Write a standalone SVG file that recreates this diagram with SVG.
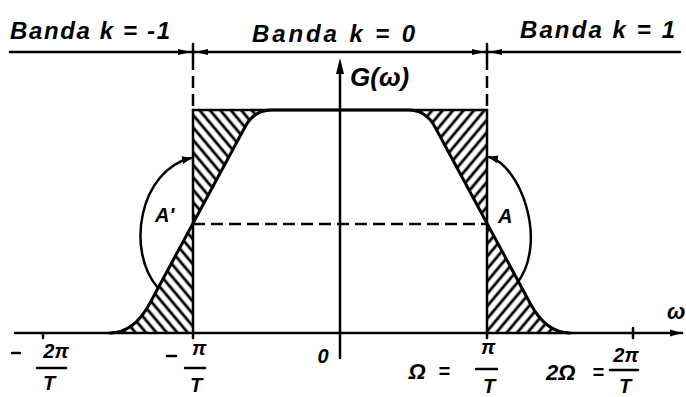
<svg xmlns="http://www.w3.org/2000/svg" width="686" height="397" viewBox="0 0 686 397">
<style>
.ln{stroke:#000;stroke-width:2.5;fill:none;stroke-linecap:round}
.thick{stroke-width:3}
.dash{stroke-dasharray:12 6;stroke-linecap:butt}
.t{font-family:"Liberation Sans",Arial,sans-serif;font-style:italic;font-weight:bold;fill:#000}
.hl{fill:url(#hatchL);stroke:none}
.hr{fill:url(#hatchR);stroke:none}
</style>
<defs>
<pattern id="hatchL" patternUnits="userSpaceOnUse" width="8" height="8" patternTransform="rotate(-40)">
<line x1="2" y1="0" x2="2" y2="8" stroke="#000" stroke-width="2.8"/>
</pattern>
<pattern id="hatchR" patternUnits="userSpaceOnUse" width="8" height="8" patternTransform="rotate(40)">
<line x1="2" y1="0" x2="2" y2="8" stroke="#000" stroke-width="2.8"/>
</pattern>
<marker id="arr" viewBox="0 0 10 10" refX="9" refY="5" markerWidth="4" markerHeight="4" orient="auto-start-reverse" markerUnits="strokeWidth">
<path d="M0,1 L10,5 L0,9 Z" fill="#000"/>
</marker>
</defs>

<g id="hatching">
<path class="hl" d="M193,110 L272,110 Q254,110 245,127 L193,224 Z"/>
<path class="hl" d="M193,224 L150,303 Q134,333 110,333 L193,333 Z"/>
<path class="hr" d="M487,110 L408,110 Q426,110 435,127 L487,224 Z"/>
<path class="hr" d="M487,224 L530,303 Q546,333 570,333 L487,333 Z"/>
</g>

<g id="connectors">
<line class="ln" x1="10" y1="52" x2="680" y2="52"/>
<line class="ln" x1="193" y1="44" x2="193" y2="58"/>
<line class="ln" x1="487" y1="44" x2="487" y2="58"/>
<polygon points="178,49 191,52 178,55" fill="#000"/>
<polygon points="208,49 195,52 208,55" fill="#000"/>
<polygon points="472,49 485,52 472,55" fill="#000"/>
<polygon points="502,49 489,52 502,55" fill="#000"/>
<line class="ln dash" x1="193" y1="58" x2="193" y2="110"/>
<line class="ln dash" x1="487" y1="58" x2="487" y2="110"/>
<line class="ln" x1="193" y1="110" x2="193" y2="338"/>
<line class="ln" x1="487" y1="110" x2="487" y2="338"/>
<line class="ln" x1="193" y1="110" x2="487" y2="110"/>
<line class="ln dash" x1="193" y1="224" x2="487" y2="224"/>
<line class="ln" x1="15" y1="333" x2="682" y2="333"/>
<polygon points="682,333 670,329.5 670,336.5" fill="#000"/>
<line class="ln" x1="43" y1="333" x2="43" y2="338"/>
<line class="ln" x1="633" y1="328" x2="633" y2="338"/>
<line class="ln" x1="340" y1="358" x2="340" y2="70"/>
<polygon points="340,58 336,74 344,74" fill="#000"/>
<path class="ln thick" d="M110,333 Q134,333 150,303 L245,127 Q254,110 272,110 L408,110 Q426,110 435,127 L530,303 Q546,333 570,333"/>
<path class="ln" d="M191,158 C140,170 125,250 158,288" marker-start="url(#arr)"/>
<path class="ln" d="M489,157 C520,165 548,240 518,282" marker-start="url(#arr)"/>
</g>

<g id="labels">
<text class="t" x="10" y="39" font-size="24" textLength="160" lengthAdjust="spacing">Banda k = -1</text>
<text class="t" x="252" y="42" font-size="24" textLength="163" lengthAdjust="spacing">Banda k = 0</text>
<text class="t" x="520" y="38" font-size="24" textLength="155" lengthAdjust="spacing">Banda k = 1</text>
<text class="t" x="350" y="86" font-size="26">G(ω)</text>
<text class="t" x="667" y="319" font-size="22">ω</text>
<text class="t" x="155" y="222" font-size="20">A'</text>
<text class="t" x="498" y="223" font-size="20">A</text>

<line class="ln" x1="12" y1="353" x2="20" y2="353" stroke-width="3"/>
<text class="t" x="56" y="358" font-size="20" text-anchor="middle">2π</text>
<line class="ln" x1="37" y1="368" x2="66" y2="368"/>
<text class="t" x="49" y="390" font-size="20" text-anchor="middle">T</text>

<line class="ln" x1="167" y1="356" x2="176" y2="356" stroke-width="3"/>
<text class="t" x="199" y="355" font-size="20" text-anchor="middle">π</text>
<line class="ln" x1="185" y1="368" x2="205" y2="368"/>
<text class="t" x="196" y="392" font-size="20" text-anchor="middle">T</text>

<text class="t" x="323" y="363" font-size="20" text-anchor="middle">0</text>

<text class="t" x="417" y="379" font-size="22" text-anchor="middle">Ω</text>
<text class="t" x="444" y="378" font-size="20" text-anchor="middle">=</text>
<text class="t" x="488" y="354" font-size="20" text-anchor="middle">π</text>
<line class="ln" x1="476" y1="369" x2="497" y2="369"/>
<text class="t" x="489" y="393" font-size="20" text-anchor="middle">T</text>

<text class="t" x="546" y="380" font-size="22">2Ω</text>
<text class="t" x="598" y="379" font-size="20" text-anchor="middle">=</text>
<text class="t" x="626" y="362" font-size="20" text-anchor="middle">2π</text>
<line class="ln" x1="610" y1="370" x2="638" y2="370"/>
<text class="t" x="625" y="393" font-size="20" text-anchor="middle">T</text>
</g>
</svg>
